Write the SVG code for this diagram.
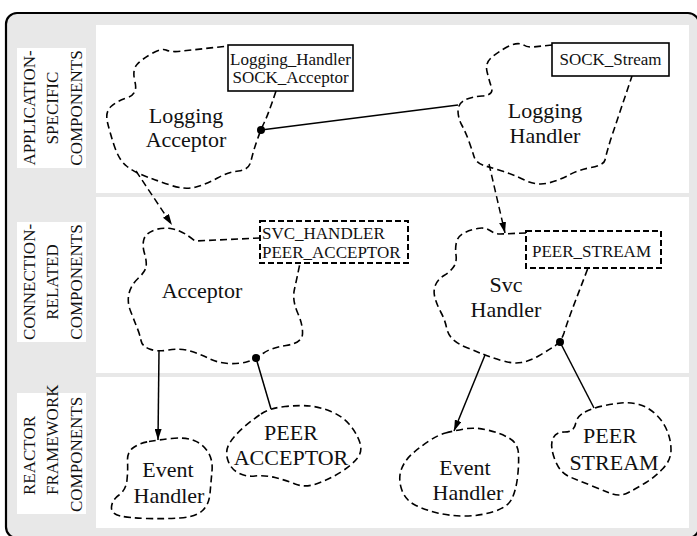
<svg xmlns="http://www.w3.org/2000/svg" width="697" height="536" viewBox="0 0 697 536">
  <style>
    .frame { fill: #e8e8e8; stroke: #000; stroke-width: 2.2; }
    .panel { fill: #fff; stroke: none; }
    .tag { fill: #fff; stroke: none; }
    .side { font-family: "Liberation Serif", "Times New Roman", serif; font-size: 17px; fill: #111; }
    .cloud { fill: none; stroke: #000; stroke-width: 1.6; stroke-dasharray: 7 4; }
    .lbl { font-family: "Liberation Serif", "Times New Roman", serif; font-size: 22px; fill: #111; text-anchor: middle; }
    .param { fill: #fff; stroke: #000; stroke-width: 1.6; }
    .param-d { fill: #fff; stroke: #000; stroke-width: 2; stroke-dasharray: 6 3; }
    .ptxt { font-family: "Liberation Serif", "Times New Roman", serif; font-size: 17px; fill: #111; }
    .solid { fill: none; stroke: #000; stroke-width: 1.5; }
    .dashed { fill: none; stroke: #000; stroke-width: 1.5; stroke-dasharray: 7 4; }
    .dot { fill: #000; }
  </style>
  <defs>
    <marker id="head" viewBox="0 0 11 7" refX="11" refY="3.5" markerWidth="11" markerHeight="7" markerUnits="userSpaceOnUse" orient="auto">
      <path d="M0,0 L11,3.5 L0,7 z" fill="#000"/>
    </marker>
  </defs>

  <!-- outer frame and layer bands -->
  <rect class="frame" x="6" y="13" width="693" height="525" rx="11"/>
  <rect class="panel" x="96" y="25" width="593" height="168"/>
  <rect class="panel" x="96" y="197" width="593" height="176"/>
  <rect class="panel" x="96" y="377" width="593" height="151"/>

  <!-- layer captions -->
  <g id="layer-app">
    <rect class="tag" x="17" y="48" width="69" height="120"/>
    <text class="side" text-anchor="middle" transform="translate(35,108) rotate(-90)">APPLICATION-</text>
    <text class="side" text-anchor="middle" transform="translate(58,108) rotate(-90)">SPECIFIC</text>
    <text class="side" text-anchor="middle" transform="translate(82,108) rotate(-90)">COMPONENTS</text>
  </g>
  <g id="layer-conn">
    <rect class="tag" x="17" y="222" width="69" height="120"/>
    <text class="side" text-anchor="middle" transform="translate(35,282) rotate(-90)">CONNECTION-</text>
    <text class="side" text-anchor="middle" transform="translate(58,282) rotate(-90)">RELATED</text>
    <text class="side" text-anchor="middle" transform="translate(82,282) rotate(-90)">COMPONENTS</text>
  </g>
  <g id="layer-reactor">
    <rect class="tag" x="17" y="393" width="69" height="121"/>
    <text class="side" transform="translate(35,495) rotate(-90)">REACTOR</text>
    <text class="side" transform="translate(58,495) rotate(-90)">FRAMEWORK</text>
    <text class="side" transform="translate(82,512) rotate(-90)">COMPONENTS</text>
  </g>

  <!-- connectors -->
  <g id="connectors">
    <line class="solid" x1="261" y1="130" x2="458" y2="105"/>
    <line class="dashed" x1="136" y1="171" x2="172" y2="225" marker-end="url(#head)"/>
    <line class="dashed" x1="489" y1="164" x2="505" y2="233" marker-end="url(#head)"/>
    <line class="solid" x1="159" y1="351" x2="158" y2="440" marker-end="url(#head)"/>
    <line class="solid" x1="256" y1="358" x2="271" y2="409"/>
    <line class="solid" x1="485" y1="355" x2="454" y2="431" marker-end="url(#head)"/>
    <line class="solid" x1="560" y1="342" x2="594" y2="408"/>
    <circle class="dot" cx="261" cy="130" r="4"/>
    <circle class="dot" cx="256" cy="358" r="4"/>
    <circle class="dot" cx="560" cy="342" r="4"/>
  </g>

  <g id="logging-acceptor">
    <path class="cloud" d="M276,91 Q268,115 264.5,122 Q261,129 257,140.5 Q253,152 251,161 Q249,170 238.5,171 Q228,172 217.5,178 Q207,184 196,187 Q185,190 171.5,185.5 Q158,181 146,176.5 Q134,172 126.5,166 Q119,160 114.5,146.5 Q110,133 107.5,122.5 Q105,112 111,106.5 Q117,101 127.5,97.5 Q138,94 135,82 Q132,70 137,64.5 Q142,59 152,53.5 Q162,48 166,50 Q170,52 178,51.5 L228,46"/>
    <text class="lbl" x="186" y="123">Logging</text>
    <text class="lbl" x="186" y="147">Acceptor</text>
    <rect class="param" x="228" y="45" width="125" height="46"/>
    <text class="ptxt" x="290.5" y="65" text-anchor="middle">Logging_Handler</text>
    <text class="ptxt" x="290.5" y="83" text-anchor="middle">SOCK_Acceptor</text>
  </g>

  <g id="logging-handler">
    <path class="cloud" d="M552,45 L533,47 Q527,47.5 523,44.5 Q516,42 507,47 Q498,52 491.5,57.5 Q485,63 487,71.5 Q489,80 491.5,87.5 Q494,95 482,96 Q470,97 464,100.5 Q458,104 458,111 Q458,118 462,125.5 Q466,133 469,141.5 Q472,150 474,156.5 Q476,163 484,165.5 Q492,168 502,171 Q512,174 524.5,180 Q537,186 548.5,183 Q560,180 569,175 Q578,170 591,167.5 Q604,165 605,160 Q606,155 610.5,140 L632,76"/>
    <text class="lbl" x="545" y="118">Logging</text>
    <text class="lbl" x="545" y="143">Handler</text>
    <rect class="param" x="552" y="43" width="117" height="33"/>
    <text class="ptxt" x="610.5" y="65" text-anchor="middle">SOCK_Stream</text>
  </g>

  <g id="acceptor">
    <path class="cloud" d="M260,238 L195,241 Q183,231 173,229 Q163,227 154.5,230 Q146,233 144,239 Q142,245 144.5,253.5 Q147,262 146,267 Q145,272 138,278.5 Q131,285 129,293.5 Q127,302 130.5,311 Q134,320 137,327.5 Q140,335 141,340.5 Q142,346 149.5,349 Q157,352 168.5,350 Q180,348 190,351 Q200,354 209,358.5 Q218,363 229,363.5 Q240,364 248,361.5 Q256,359 263,353.5 Q270,348 286,345.5 Q302,343 302.5,334 Q303,325 297.5,312.5 Q292,300 294.5,289 Q297,278 300,263"/>
    <text class="lbl" x="202" y="298">Acceptor</text>
    <rect class="param-d" x="260" y="221" width="148" height="42"/>
    <text class="ptxt" x="262" y="239">SVC_HANDLER</text>
    <text class="ptxt" x="262" y="258">PEER_ACCEPTOR</text>
  </g>

  <g id="svc-handler">
    <path class="cloud" d="M526,233 L500,234 Q495,234 490,230.5 Q485,227 477.5,228.5 Q470,230 464,233 Q458,236 456.5,242 Q455,248 456,255 Q457,262 453.5,267 Q450,272 444,275.5 Q438,279 435.5,285 Q433,291 435,298 Q437,305 441,312.5 Q445,320 446.5,327.5 Q448,335 453,339.5 Q458,344 466.5,347.5 Q475,351 482.5,354 Q490,357 501.5,360.5 Q513,364 521.5,362.5 Q530,361 538.5,356 Q547,351 554,346.5 Q561,342 564,333 Q567,323 575,302 L588,268"/>
    <text class="lbl" x="506" y="292">Svc</text>
    <text class="lbl" x="506" y="317">Handler</text>
    <rect class="param-d" x="526" y="231" width="135" height="37"/>
    <text class="ptxt" x="532" y="257">PEER_STREAM</text>
  </g>

  <g id="event-handler-1">
    <path class="cloud" d="M149,441.5 Q158,440 171.5,438.5 Q185,437 194,440.5 Q203,444 208,452 Q213,460 212,471 Q211,482 210,493.5 Q209,505 202,511 Q195,517 180,518 Q165,519 147.5,518.5 Q130,518 120.5,516 Q111,514 111.5,507 Q112,500 119,495 Q126,490 127,480 Q128,470 127.5,461 Q127,452 133.5,447.5 Q140,443 149,441.5 Z"/>
    <text class="lbl" x="168" y="477">Event</text>
    <text class="lbl" x="169" y="503">Handler</text>
  </g>

  <g id="peer-acceptor">
    <path class="cloud" d="M261,414 Q270,408 285,406.5 Q300,405 310,406 Q320,407 331,411.5 Q342,416 349,424 Q356,432 359.5,441.5 Q363,451 357.5,458 Q352,465 341,472 Q330,479 317.5,483.5 Q305,488 295,484 Q285,480 275,477.5 Q265,475 255,476 Q245,477 237.5,472.5 Q230,468 227.5,459 Q225,450 230,442.5 Q235,435 243.5,427.5 Q252,420 261,414 Z"/>
    <text class="lbl" x="291" y="440">PEER</text>
    <text class="lbl" x="291" y="465">ACCEPTOR</text>
  </g>

  <g id="event-handler-2">
    <path class="cloud" d="M445.5,433 Q453,431 464,429 Q475,427 487.5,430 Q500,433 509,438 Q518,443 518.5,454 Q519,465 517.5,477.5 Q516,490 512,498.5 Q508,507 494,511.5 Q480,516 465,516 Q450,516 437.5,513 Q425,510 415,505 Q405,500 401.5,489 Q398,478 401.5,469 Q405,460 412.5,453.5 Q420,447 429,441 Q438,435 445.5,433 Z"/>
    <text class="lbl" x="465" y="475">Event</text>
    <text class="lbl" x="468" y="500">Handler</text>
  </g>

  <g id="peer-stream">
    <path class="cloud" d="M585,412 Q593,408 602.5,406 Q612,404 621,403 Q630,402 639,404.5 Q648,407 655.5,414 Q663,421 667,430.5 Q671,440 671,450 Q671,460 663,468.5 Q655,477 646,482.5 Q637,488 628.5,492.5 Q620,497 611,493.5 Q602,490 591,485.5 Q580,481 570,477 Q560,473 555,460 Q550,447 552.5,439.5 Q555,432 564.5,432 Q574,432 575.5,424 Q577,416 585,412 Z"/>
    <text class="lbl" x="610" y="443">PEER</text>
    <text class="lbl" x="614" y="470">STREAM</text>
  </g>
</svg>
